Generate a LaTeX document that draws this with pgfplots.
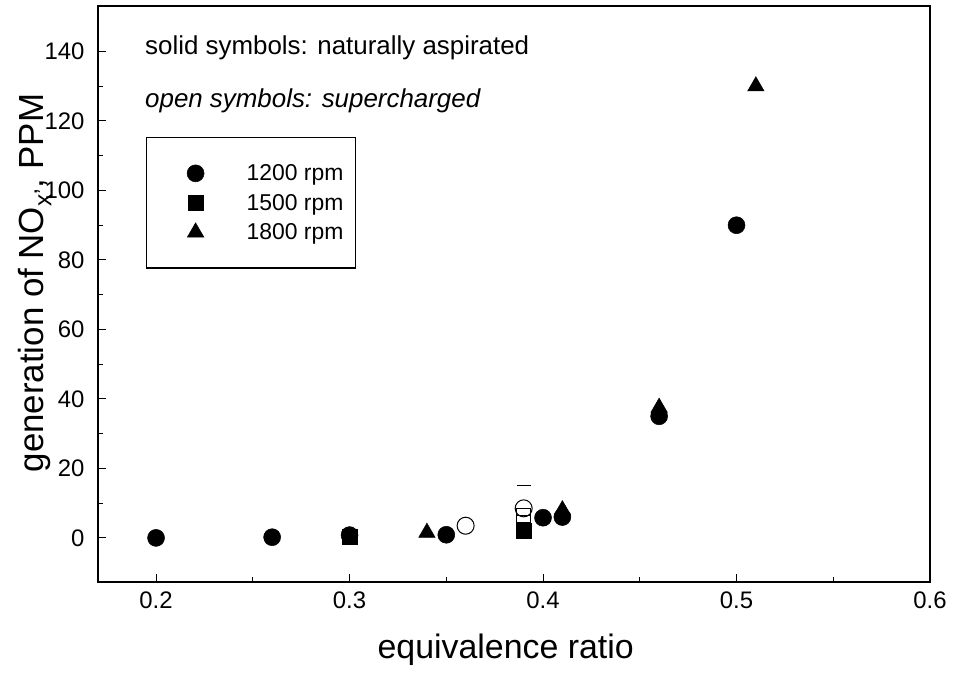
\documentclass[border=0pt]{standalone}
\usepackage{fontspec}
\setmainfont{Liberation Sans}
\usepackage{pgfplots}
\pgfplotsset{compat=1.18}
\pgfplotsset{lg/.style={only marks, legend image code/.code={\path[draw=none,fill=none] (0bp,0bp) -- (88bp,0bp); \draw[##1,/tikz/only marks] plot coordinates {(39bp,0bp)};}}}
\begin{document}
\begin{tikzpicture}
\useasboundingbox (-98bp,-94bp) rectangle (856bp,582bp);
\begin{axis}[
 scale only axis, width=832bp, height=576bp,
 xmin=0.17, xmax=0.6, ymin=-12.7, ymax=153.1,
 xtick={0.2,0.3,0.4,0.5,0.6}, ytick={0,20,...,140},
 minor x tick num=1, minor y tick num=1,
 xtick pos=bottom, ytick pos=left, tick align=inside,
 major tick length=8bp, minor tick length=5bp,
 axis line style={line width=1.5bp},
 every tick/.style={black, line width=1bp},
 /pgf/number format/assume math mode=true,
 x tick label style={font=\fontsize{24}{28}\selectfont, yshift=-6bp, /pgf/number format/.cd, fixed, precision=1, fixed zerofill},
 y tick label style={font=\fontsize{24}{28}\selectfont, xshift=-10bp},
 xlabel={equivalence ratio},
 ylabel={generation of NO\textsubscript{x'}, PPM},
 xlabel style={at={(axis description cs:0.49,-0.132)}, anchor=base, font=\fontsize{34}{40}\selectfont},
 ylabel style={at={(axis description cs:-0.0661,0.519)}, anchor=base, font=\fontsize{35}{40}\selectfont},
 legend style={at={(0.0577,0.7726)}, anchor=north west, draw=black, line width=1.2bp, fill=none,
   inner xsep=10bp, inner ysep=25bp, row sep=8bp, nodes={inner sep=2bp},
   font=\fontsize{23}{27}\selectfont},
 legend cell align=left,
]
\addplot[lg, mark=*, mark size=8.5bp, black, mark options={fill=black, line width=0.5bp}] coordinates {
 (0.20,0) (0.26,0.2) (0.30,0.8) (0.35,0.9) (0.40,5.8) (0.41,6) (0.46,35) (0.50,90)};
\addlegendentry{1200 rpm}
\addplot[lg, mark=square*, mark size=7.5bp, black, mark options={fill=black, line width=0.5bp}] coordinates {
 (0.30,0.3) (0.39,2)};
\addlegendentry{1500 rpm}
\addplot[lg, mark=triangle*, mark size=9.5bp, black, mark options={fill=black, line width=0.5bp}] coordinates {
 (0.34,1.5) (0.41,8) (0.46,37.5) (0.51,130)};
\addlegendentry{1800 rpm}
\addplot[only marks, forget plot, mark=o, mark size=8.5bp, black, mark options={line width=1bp}] coordinates {
 (0.36,3.5) (0.39,8.5)};
\addplot[only marks, forget plot, mark=square, mark size=7bp, black, mark options={line width=1bp}] coordinates {
 (0.39,4.5) (0.39,6.5)};
\addplot[only marks, forget plot, mark=-, mark size=7bp, black, mark options={line width=1.2bp}] coordinates {
 (0.39,15)};
\node[anchor=base west, inner sep=0pt, font=\fontsize{26}{30}\selectfont] at (rel axis cs:0.0565,0.915) {solid symbols: naturally aspirated};
\node[anchor=base west, inner sep=0pt, font=\fontsize{26}{30}\selectfont\itshape] at (rel axis cs:0.0565,0.823) {open symbols: supercharged};
\end{axis}
\end{tikzpicture}
\end{document}
